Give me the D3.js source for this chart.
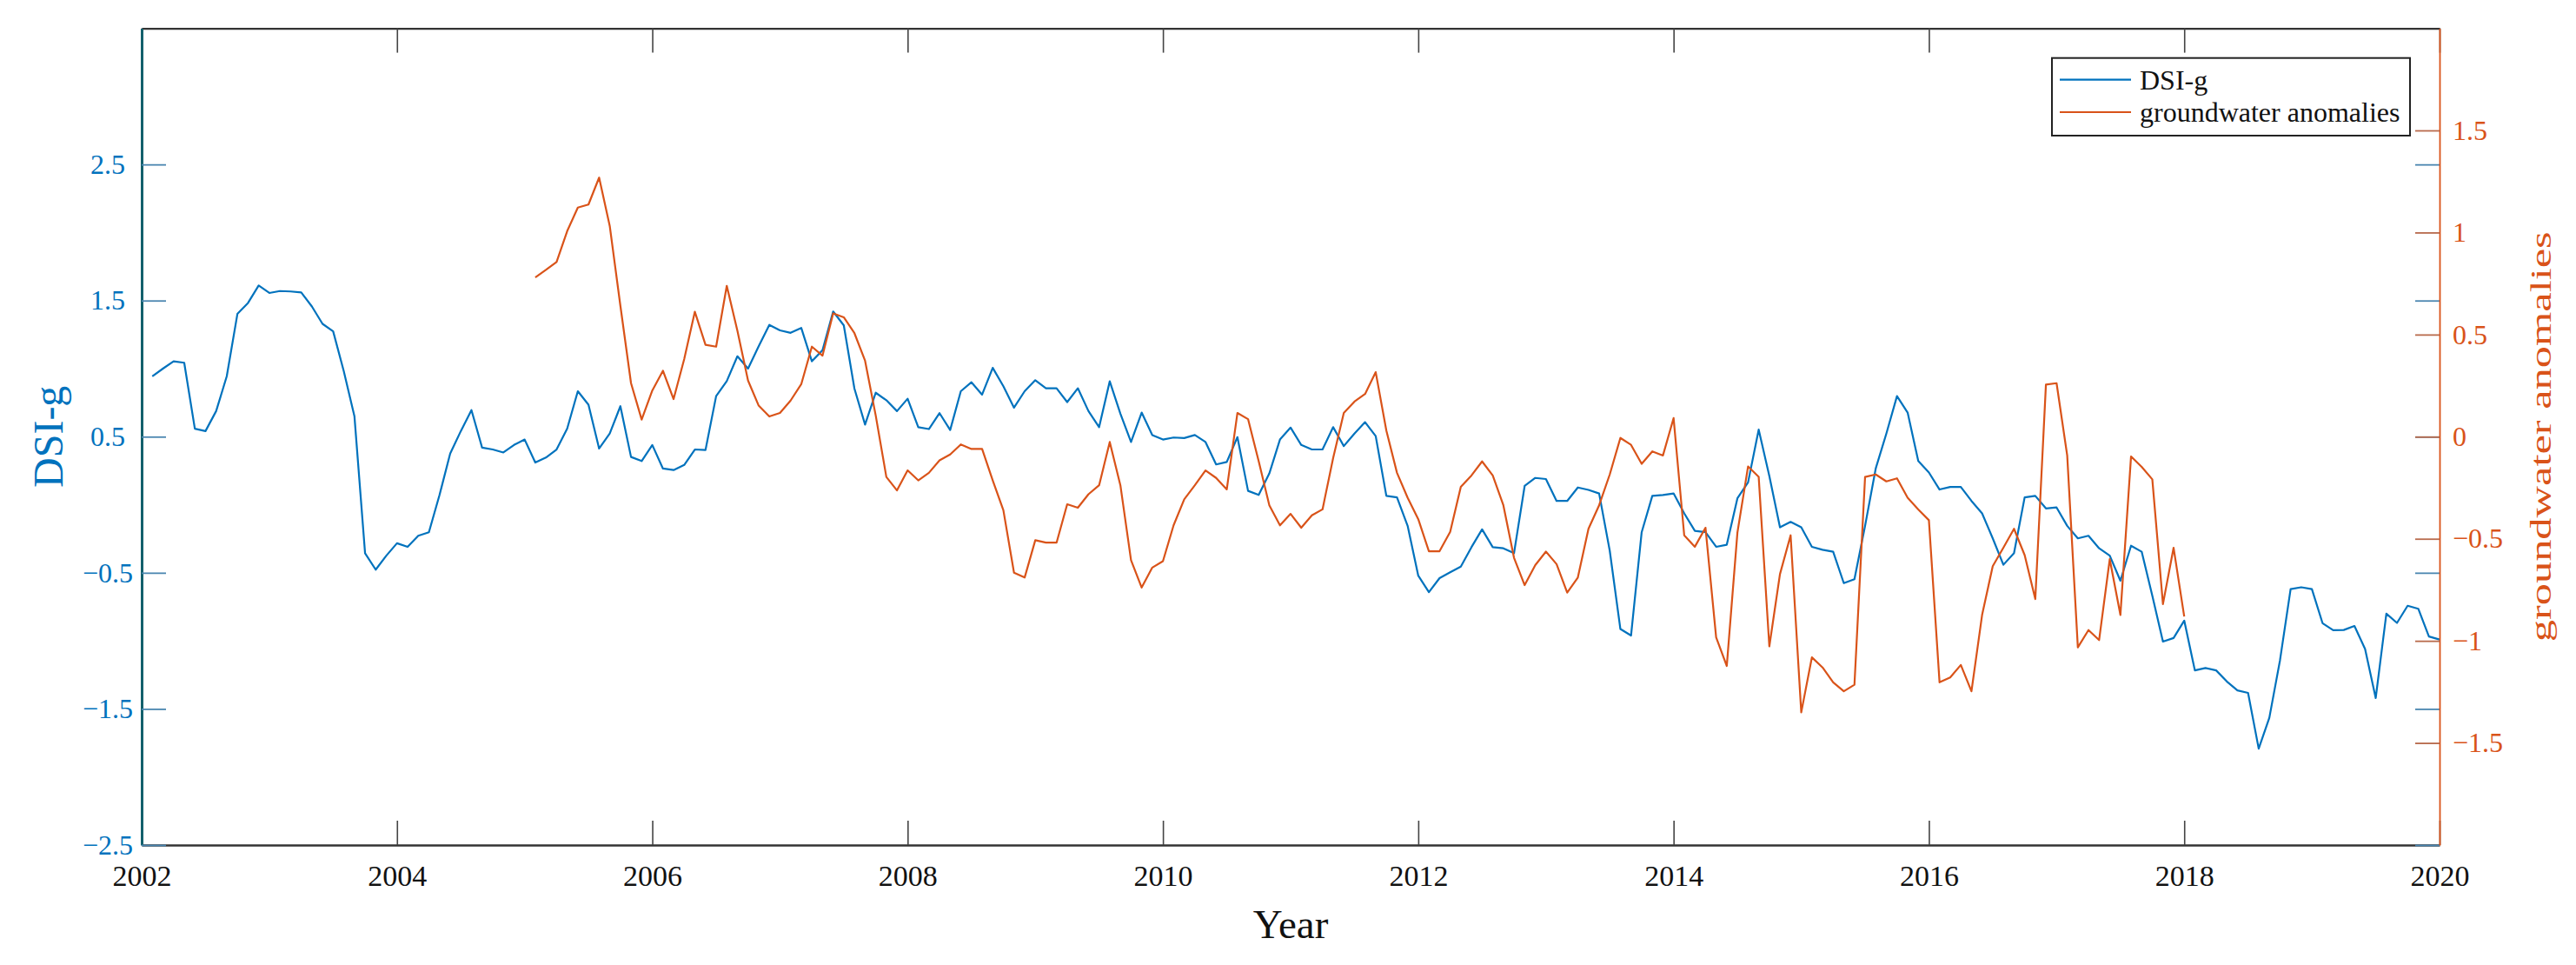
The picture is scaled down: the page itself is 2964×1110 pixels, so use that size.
<!DOCTYPE html>
<html>
<head>
<meta charset="utf-8">
<script src="https://cdn.jsdelivr.net/npm/d3@7"></script>
<style>
  html, body { margin: 0; padding: 0; background: #fff; }
  svg { display: block; }
</style>
</head>
<body>
<svg id="chart" width="2964" height="1110"></svg>
<script>
// ---------------- DATA ----------------
// Monthly series. DSI-g starts Feb 2002, groundwater anomalies start Feb 2005.
const dsiStart = { year: 2002, month: 2 };
const gwStart = { year: 2005, month: 2 };

const dsiValues = [
  0.944, 1.00, 1.054, 1.043, 0.559, 0.541, 0.688, 0.944, 1.402, 1.483, 1.611, 1.556,
  1.570, 1.567, 1.560, 1.457, 1.329, 1.274, 0.981, 0.651, -0.356, -0.477, -0.374, -0.283,
  -0.309, -0.228, -0.202, 0.072, 0.376, 0.541, 0.695, 0.420, 0.406, 0.384, 0.439,
  0.479, 0.310, 0.347, 0.406, 0.559, 0.834, 0.735, 0.413, 0.523, 0.724, 0.351, 0.321,
  0.439, 0.266, 0.255, 0.292, 0.406, 0.402, 0.798, 0.908, 1.091, 1.0, 1.164, 1.321,
  1.281, 1.263, 1.299, 1.054, 1.135, 1.420, 1.318, 0.853, 0.589, 0.823, 0.768,
  0.688, 0.779, 0.570, 0.556, 0.673, 0.549, 0.834, 0.900, 0.809, 1.006, 0.871, 0.713,
  0.834, 0.915, 0.856, 0.856, 0.754, 0.856, 0.688, 0.570, 0.907, 0.669, 0.461, 0.677,
  0.512, 0.479, 0.494, 0.490, 0.512, 0.461, 0.296, 0.314, 0.497, 0.102, 0.072,
  0.230, 0.479, 0.567, 0.439, 0.406, 0.406, 0.570, 0.431, 0.523, 0.607, 0.504, 0.065,
  0.054, -0.155, -0.521, -0.642, -0.539, -0.496, -0.455, -0.312, -0.181, -0.312, -0.320, -0.356,
  0.138, 0.197, 0.189, 0.028, 0.028, 0.127, 0.109, 0.083, -0.338, -0.913, -0.961, -0.202,
  0.065, 0.072, 0.083, -0.063, -0.192, -0.202, -0.309, -0.294, 0.047, 0.164, 0.552, 0.211,
  -0.166, -0.126, -0.166, -0.309, -0.331, -0.345, -0.576, -0.547, -0.155, 0.266, 0.523, 0.798,
  0.677, 0.321, 0.237, 0.112, 0.131, 0.131, 0.028, -0.063, -0.247, -0.441, -0.356,
  0.054, 0.065, -0.027, -0.020, -0.155, -0.247, -0.228, -0.320, -0.374, -0.558, -0.301, -0.345,
  -0.668, -1.005, -0.979, -0.851, -1.217, -1.199, -1.217, -1.298, -1.364, -1.382, -1.792, -1.565,
  -1.144, -0.620, -0.606, -0.620, -0.870, -0.922, -0.920, -0.891, -1.060,
  -1.420, -0.800, -0.868, -0.742, -0.764, -0.968, -0.990
];

const gwValues = [
  0.780, 0.817, 0.856, 1.007, 1.122, 1.137, 1.269, 1.032, 0.641, 0.262, 0.084, 0.226,
  0.323, 0.184, 0.380, 0.612, 0.450, 0.441, 0.739, 0.519, 0.275, 0.152, 0.099, 0.116,
  0.177, 0.257, 0.441, 0.397, 0.604, 0.585, 0.507, 0.372, 0.104, -0.197,
  -0.263, -0.165, -0.214, -0.177, -0.116, -0.087, -0.038, -0.060, -0.060, -0.214, -0.360, -0.666,
  -0.690, -0.507, -0.519, -0.519, -0.331, -0.348, -0.282, -0.238, -0.026, -0.238, -0.605, -0.739,
  -0.641, -0.610, -0.434, -0.307, -0.238, -0.165, -0.202, -0.258, 0.116, 0.086, -0.120,
  -0.336, -0.434, -0.378, -0.446, -0.385, -0.356, -0.104, 0.116, 0.172, 0.209, 0.316, 0.030,
  -0.177, -0.299, -0.404, -0.561, -0.561, -0.466, -0.246, -0.190, -0.121, -0.190, -0.336, -0.593,
  -0.727, -0.629, -0.563, -0.624, -0.764, -0.690, -0.451, -0.336, -0.185, -0.006, -0.040, -0.133,
  -0.072, -0.092, 0.091, -0.483, -0.539, -0.446, -0.983, -1.123, -0.470, -0.146, -0.197, -1.027,
  -0.673, -0.483, -1.350, -1.081, -1.130, -1.203, -1.247, -1.215, -0.197, -0.185, -0.219, -0.204,
  -0.299, -0.356, -0.409, -1.203, -1.179, -1.118, -1.247, -0.873, -0.634, -0.544, -0.451,
  -0.580, -0.795, 0.255, 0.262, -0.092, -1.032, -0.947, -0.996, -0.600, -0.873, -0.097, -0.148,
  -0.209, -0.820, -0.544, -0.881
];

const xTickYears = [2002, 2004, 2006, 2008, 2010, 2012, 2014, 2016, 2018, 2020];
const leftTicks = [-2.5, -1.5, -0.5, 0.5, 1.5, 2.5];
const rightTicks = [-1.5, -1, -0.5, 0, 0.5, 1, 1.5];
const seriesNames = ["DSI-g", "groundwater anomalies"];
const axisTitles = { x: "Year", left: "DSI-g", right: "groundwater anomalies" };

// ---------------- STYLE ----------------
const BLUE = "#0072BD", ORANGE = "#D95319";
const FONT = "'Liberation Serif', 'Times New Roman', serif";
const M = { left: 163, right: 2807, top: 32.6, bottom: 972 };

const svg = d3.select("#chart");
svg.append("rect").attr("width", 2964).attr("height", 1110).attr("fill", "#fff");

const x = d3.scaleLinear().domain([2002, 2020]).range([M.left, M.right]);
const yL = d3.scaleLinear().domain([-2.5, 3.5]).range([M.bottom, M.top]);
const yR = d3.scaleLinear().domain([-2, 2]).range([M.bottom, M.top]);

const toSeries = (vals, start) => vals.map((v, i) => ({
  t: start.year + (start.month - 1 + i) / 12, v
}));
const dsi = toSeries(dsiValues, dsiStart);
const gw = toSeries(gwValues, gwStart);

const fmt = d => (d < 0 ? "\u2212" : "") + String(Math.abs(d));

// ---------- Lines ----------
const lineL = d3.line().x(d => x(d.t)).y(d => yL(d.v));
const lineR = d3.line().x(d => x(d.t)).y(d => yR(d.v));

svg.append("path").datum(dsi).attr("d", lineL)
  .attr("fill", "none").attr("stroke", BLUE).attr("stroke-width", 2.2)
  .attr("stroke-linejoin", "round");
svg.append("path").datum(gw).attr("d", lineR)
  .attr("fill", "none").attr("stroke", ORANGE).attr("stroke-width", 2.2)
  .attr("stroke-linejoin", "round");

// ---------- Axes ----------
// bottom
const gB = svg.append("g").attr("transform", `translate(0,${M.bottom})`)
  .call(d3.axisBottom(x).tickValues(xTickYears).tickFormat(d3.format("d"))
    .tickSizeInner(-28).tickSizeOuter(0).tickPadding(23));
gB.select(".domain").attr("stroke", "#333").attr("stroke-width", 2.5);
gB.selectAll(".tick line").attr("stroke", "#444").attr("stroke-width", 1.6);
gB.selectAll(".tick text").attr("font-family", FONT).attr("font-size", 34).attr("fill", "#111");

// top
const gT = svg.append("g").attr("transform", `translate(0,${M.top})`)
  .call(d3.axisTop(x).tickValues(xTickYears).tickFormat("")
    .tickSizeInner(-28).tickSizeOuter(0));
gT.select(".domain").attr("stroke", "#333").attr("stroke-width", 2.2);
gT.selectAll(".tick line").attr("stroke", "#444").attr("stroke-width", 1.6);

// left
const gL = svg.append("g").attr("transform", `translate(${M.left},0)`)
  .call(d3.axisLeft(yL).tickValues(leftTicks).tickFormat(fmt)
    .tickSizeInner(-28).tickSizeOuter(0).tickPadding(19));
gL.select(".domain").attr("stroke", "#13606c").attr("stroke-width", 3);
gL.selectAll(".tick line").attr("stroke", "#4a86b0").attr("stroke-width", 1.8);
gL.selectAll(".tick text").attr("font-family", FONT).attr("font-size", 32)
  .attr("fill", BLUE).attr("x", d => d < 0 ? -10 : -19);

// right: blue mirrored ticks
const gRB = svg.append("g").attr("transform", `translate(${M.right},0)`)
  .call(d3.axisRight(yL).tickValues(leftTicks).tickFormat("")
    .tickSizeInner(-28).tickSizeOuter(0));
gRB.select(".domain").remove();
gRB.selectAll(".tick line").attr("stroke", "#4a86b0").attr("stroke-width", 1.8);

// right: orange axis
const gR = svg.append("g").attr("transform", `translate(${M.right},0)`)
  .call(d3.axisRight(yR).tickValues(rightTicks).tickFormat(fmt)
    .tickSizeInner(-28).tickSizeOuter(0).tickPadding(15));
gR.select(".domain").attr("stroke", ORANGE).attr("stroke-width", 1.8);
gR.selectAll(".tick line").attr("stroke", "#b86a4c").attr("stroke-width", 1.8);
gR.selectAll(".tick text").attr("font-family", FONT).attr("font-size", 32).attr("fill", ORANGE);

// ---------- Axis titles ----------
svg.append("text").attr("x", (M.left + M.right) / 2).attr("y", 1079)
  .attr("text-anchor", "middle").attr("font-family", FONT).attr("font-size", 47)
  .attr("fill", "#111").text(axisTitles.x);

svg.append("text").attr("transform", `translate(72,${(M.top + M.bottom) / 2}) rotate(-90)`)
  .attr("text-anchor", "middle").attr("font-family", FONT).attr("font-size", 48)
  .attr("fill", BLUE).text(axisTitles.left);

svg.append("text").attr("transform", `translate(2935,${(M.top + M.bottom) / 2}) rotate(-90)`)
  .attr("text-anchor", "middle").attr("font-family", FONT).attr("font-size", 34)
  .attr("textLength", 472).attr("lengthAdjust", "spacingAndGlyphs")
  .attr("fill", ORANGE).text(axisTitles.right);

// ---------- Legend ----------
const lg = svg.append("g");
lg.append("rect").attr("x", 2361).attr("y", 66.7).attr("width", 412).attr("height", 89.3)
  .attr("fill", "#fff").attr("stroke", "#222").attr("stroke-width", 2);
const legendItems = [
  { name: seriesNames[0], color: BLUE, y: 91.7 },
  { name: seriesNames[1], color: ORANGE, y: 129 }
];
legendItems.forEach(it => {
  lg.append("line").attr("x1", 2370).attr("x2", 2452).attr("y1", it.y).attr("y2", it.y)
    .attr("stroke", it.color).attr("stroke-width", 2.2);
  lg.append("text").attr("x", 2462).attr("y", it.y + 11)
    .attr("font-family", FONT).attr("font-size", 32).attr("fill", "#111").text(it.name);
});
</script>
</body>
</html>
